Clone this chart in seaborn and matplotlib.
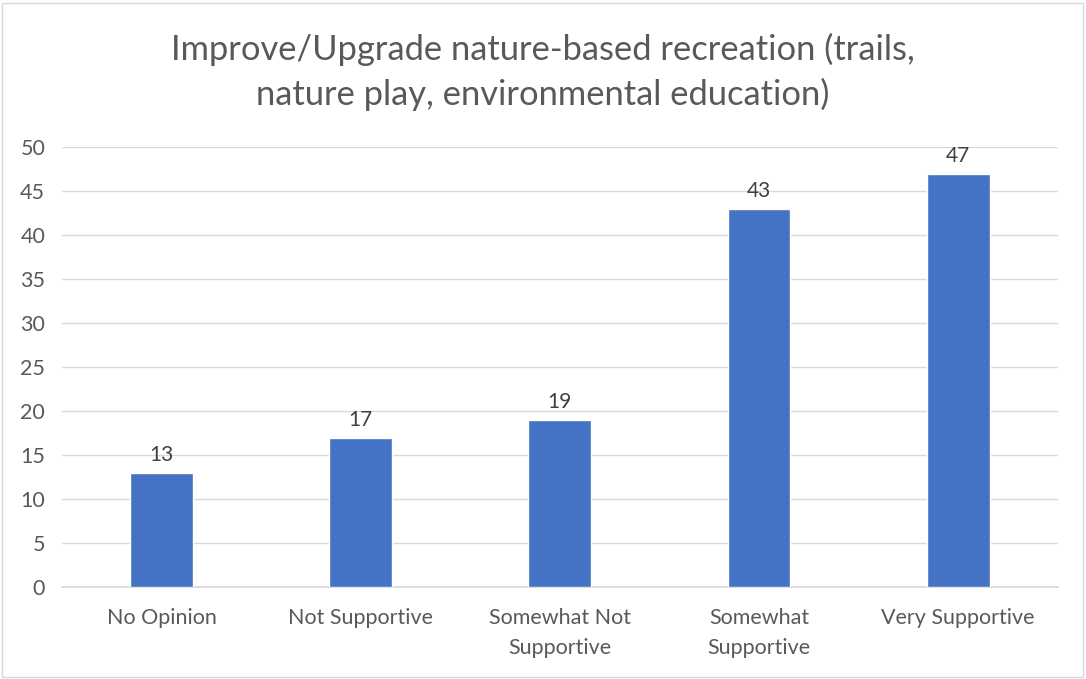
import matplotlib
matplotlib.use("Agg")
import matplotlib.pyplot as plt
import seaborn as sns
import pandas as pd

# chart data
categories = ["No Opinion", "Not Supportive", "Somewhat Not\nSupportive",
              "Somewhat\nSupportive", "Very Supportive"]
counts = [13, 17, 19, 43, 47]
title = "Improve/Upgrade nature-based recreation (trails,\nnature play, environmental education)"

df = pd.DataFrame({"Response": categories, "Count": counts})

sns.set_theme(style="white")
plt.rcParams['font.family'] = ['Lato', 'DejaVu Sans']

fig = plt.figure(figsize=(10.86, 6.79), dpi=100)
ax = fig.add_axes([0.057, 0.135, 0.917, 0.648])

sns.barplot(data=df, x="Response", y="Count", color="#4472C4", width=0.315,
            saturation=1, ax=ax, zorder=3)

for i, v in enumerate(counts):
    ax.text(i, v + 0.9, str(v), ha="center", va="bottom", fontsize=15, color="#404040")

ax.set_ylim(0, 50)
ax.set_yticks(range(0, 51, 5))
ax.yaxis.grid(True, color="#D9D9D9", linewidth=1, zorder=0)
ax.set_xlabel("")
ax.set_ylabel("")
ax.tick_params(axis="both", labelsize=15.5, colors="#595959", length=0)
ax.tick_params(axis="y", pad=12)
ax.tick_params(axis="x", pad=15)
for lbl in ax.get_xticklabels():
    lbl.set_linespacing(1.6)
for s in ["left", "right", "top"]:
    ax.spines[s].set_visible(False)
ax.spines["bottom"].set_color("#D9D9D9")

fig.text(0.5, 0.894, title, ha="center", va="center", fontsize=24.8,
         color="#595959", linespacing=1.45)

# outer border like the office chart frame
fig.patches.append(plt.Rectangle((0.002, 0.003), 0.995, 0.993, transform=fig.transFigure,
                                 fill=False, edgecolor="#D9D9D9", linewidth=1))

fig.savefig("out.png", dpi=100)
